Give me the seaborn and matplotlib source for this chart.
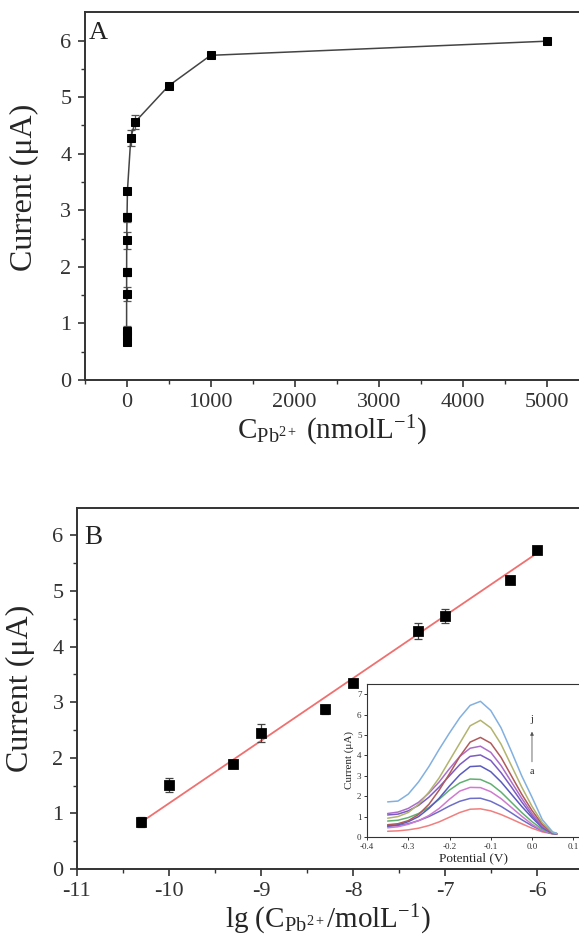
import numpy as np
import pandas as pd
import matplotlib
matplotlib.use("Agg")
import matplotlib.pyplot as plt
import seaborn as sns

# ---- panel A: current vs concentration (nmol/L) ----
conc_nm = [0, 0.01, 0.05, 0.1, 0.5, 1, 5, 10, 50, 100, 500, 1000, 5000]
current_a = [0.67, 0.80, 0.87, 1.52, 1.91, 2.47, 2.88, 3.35, 4.28, 4.56, 5.20, 5.74, 5.99]
err_a = [0.05, 0.08, 0.09, 0.12, 0.07, 0.15, 0.08, 0.05, 0.14, 0.12, 0.05, 0.04, 0.03]

# ---- panel B: current vs lg concentration ----
lg_conc = [-10.3, -10.0, -9.3, -9.0, -8.3, -8.0, -7.3, -7.0, -6.3, -6.0]
current_b = [0.85, 1.51, 1.89, 2.45, 2.87, 3.34, 4.28, 4.55, 5.19, 5.74]
err_b = [0.09, 0.12, 0.07, 0.16, 0.08, 0.04, 0.14, 0.12, 0.05, 0.04]
fit_slope = 1.126
fit_intercept = 12.44

# ---- inset: DPV curves a..j ----
potential = [-0.35, -0.325, -0.30, -0.275, -0.25, -0.225, -0.20, -0.175, -0.15,
             -0.125, -0.10, -0.075, -0.05, -0.025, 0.0, 0.025, 0.05, 0.06]
curves = {
    "a": [0.28, 0.30, 0.35, 0.43, 0.56, 0.74, 0.97, 1.20, 1.36, 1.38, 1.28, 1.10, 0.88, 0.65, 0.43, 0.25, 0.15, 0.14],
    "b": [0.52, 0.56, 0.65, 0.80, 1.00, 1.25, 1.52, 1.75, 1.89, 1.90, 1.75, 1.50, 1.18, 0.85, 0.55, 0.30, 0.16, 0.15],
    "c": [0.45, 0.50, 0.62, 0.80, 1.05, 1.40, 1.85, 2.25, 2.43, 2.42, 2.22, 1.88, 1.45, 1.02, 0.62, 0.32, 0.16, 0.15],
    "d": [0.78, 0.82, 0.95, 1.15, 1.45, 1.85, 2.30, 2.65, 2.84, 2.82, 2.60, 2.20, 1.70, 1.20, 0.75, 0.38, 0.17, 0.15],
    "e": [0.55, 0.60, 0.75, 1.00, 1.40, 1.90, 2.50, 3.05, 3.45, 3.48, 3.20, 2.70, 2.10, 1.50, 0.95, 0.45, 0.18, 0.15],
    "f": [1.08, 1.12, 1.28, 1.55, 1.95, 2.45, 3.00, 3.55, 3.95, 4.02, 3.75, 3.15, 2.45, 1.72, 1.05, 0.50, 0.19, 0.16],
    "g": [1.15, 1.22, 1.40, 1.70, 2.15, 2.70, 3.35, 3.95, 4.35, 4.45, 4.15, 3.50, 2.70, 1.90, 1.15, 0.55, 0.20, 0.16],
    "h": [0.60, 0.65, 0.80, 1.10, 1.60, 2.30, 3.10, 3.95, 4.65, 4.88, 4.60, 3.90, 3.00, 2.10, 1.30, 0.62, 0.20, 0.16],
    "i": [0.92, 1.00, 1.20, 1.60, 2.20, 2.90, 3.75, 4.60, 5.45, 5.72, 5.35, 4.55, 3.50, 2.45, 1.50, 0.70, 0.22, 0.17],
    "j": [1.72, 1.76, 2.10, 2.70, 3.45, 4.30, 5.10, 5.85, 6.45, 6.65, 6.20, 5.35, 4.20, 3.00, 1.95, 0.85, 0.25, 0.18],
}
curve_colors = ["#f07f7f", "#6e6ec8", "#d07ad0", "#5fb070", "#5a5ac0",
                "#7c5cc4", "#ac6ec8", "#b05a5a", "#b2b46e", "#82b0e0"]

sns.set_theme(style="ticks")
plt.rcParams["font.family"] = ["Liberation Serif", "DejaVu Serif"]
plt.rcParams["mathtext.fontset"] = "custom"
plt.rcParams["mathtext.rm"] = "Liberation Serif"
plt.rcParams["mathtext.it"] = "Liberation Serif:italic"
plt.rcParams["axes.unicode_minus"] = False
plt.rcParams["axes.edgecolor"] = "#333333"
plt.rcParams["xtick.color"] = "#333333"
plt.rcParams["ytick.color"] = "#333333"
plt.rcParams["text.color"] = "#222222"

fig = plt.figure(figsize=(5.79, 9.42), dpi=100)
ax_a = fig.add_axes([0.1461, 0.5966, 0.8539, 0.3903])
ax_b = fig.add_axes([0.1326, 0.0775, 0.8674, 0.3836])
ax_in = fig.add_axes([0.6339, 0.1115, 0.3661, 0.1624])


def style_main(ax):
    ax.spines["right"].set_visible(False)
    for s in ("left", "bottom", "top"):
        ax.spines[s].set_linewidth(1.4)
    ax.tick_params(which="major", direction="out", length=5, width=1.2,
                   labelsize=16, pad=4.5, top=False, right=False)
    ax.tick_params(which="minor", direction="out", length=3, width=1.0,
                   top=False, right=False)
    ax.set_ylim(0, 6.5)
    ax.set_yticks(range(0, 7))
    ax.set_yticks(np.arange(0.5, 6.5, 1.0), minor=True)


# panel A
df_a = pd.DataFrame({"conc": conc_nm, "current": current_a})
ax_a.errorbar(conc_nm, current_a, yerr=err_a, fmt="none", ecolor="#555555",
              elinewidth=0.9, capsize=3, capthick=0.9, zorder=2)
sns.lineplot(data=df_a, x="conc", y="current", ax=ax_a, color="#444444",
             linewidth=1.1, marker="s", markersize=5.3, markerfacecolor="black",
             markeredgecolor="black", sort=False, zorder=3)
style_main(ax_a)
ax_a.set_xlim(-500, 5384)
ax_a.set_xticks([0, 1000, 2000, 3000, 4000, 5000])
ax_a.set_xticks(np.arange(-500, 5400, 1000), minor=True)
ax_a.set_ylabel("Current (\u03bcA)", fontsize=23)
ax_a.yaxis.set_label_coords(-0.092, 0.525)
ax_a.set_xlabel(r"C$_{\mathregular{Pb^{2+}}}$ (nmolL$^{\mathregular{-1}}$)",
                fontsize=21, labelpad=1)
ax_a.text(0.009, 0.975, "A", transform=ax_a.transAxes, fontsize=19,
          va="top", ha="left")

# panel B
df_b = pd.DataFrame({"lg": lg_conc, "current": current_b})
fit_x = [lg_conc[0], lg_conc[-1]]
df_fit = pd.DataFrame({"lg": fit_x,
                       "current": [fit_slope * v + fit_intercept for v in fit_x]})
sns.lineplot(data=df_fit, x="lg", y="current", ax=ax_b, color="#f07070",
             linewidth=1.3, zorder=2)
ax_b.errorbar(lg_conc, current_b, yerr=err_b, fmt="none", ecolor="#444444",
              elinewidth=0.9, capsize=3, capthick=0.9, zorder=3)
sns.scatterplot(data=df_b, x="lg", y="current", ax=ax_b, marker="s", s=48,
                color="black", edgecolor="black", zorder=4)
style_main(ax_b)
ax_b.set_xlim(-11, -5.547)
ax_b.set_xticks([-11, -10, -9, -8, -7, -6])
ax_b.set_xticks(np.arange(-10.5, -5.5, 1.0), minor=True)
ax_b.set_ylabel("Current (\u03bcA)", fontsize=23)
ax_b.yaxis.set_label_coords(-0.083, 0.5)
ax_b.set_xlabel(r"lg (C$_{\mathregular{Pb^{2+}}}$/molL$^{\mathregular{-1}}$)",
                fontsize=21, labelpad=1)
ax_b.text(0.014, 0.953, "B", transform=ax_b.transAxes, fontsize=19.5,
          va="top", ha="left")

# inset
for (name, vals), col in zip(curves.items(), curve_colors):
    sns.lineplot(x=potential, y=vals, ax=ax_in, color=col, linewidth=1.1)
ax_in.set_xlim(-0.4, 0.114)
ax_in.set_ylim(0, 7.5)
ax_in.set_xticks([-0.4, -0.3, -0.2, -0.1, 0.0, 0.1])
ax_in.set_xticklabels(["-0.4", "-0.3", "-0.2", "-0.1", "0.0", "0.1"])
ax_in.set_yticks(range(0, 8))
ax_in.spines["right"].set_visible(False)
for s in ("left", "bottom", "top"):
    ax_in.spines[s].set_linewidth(0.8)
ax_in.tick_params(which="major", direction="out", length=2.5, width=0.7,
                  labelsize=6.5, pad=1.5, top=False, right=False)
ax_in.set_xlabel("Potential (V)", fontsize=9.5, labelpad=1)
ax_in.set_ylabel("Current (\u03bcA)", fontsize=8, labelpad=2)
ax_in.annotate("", xy=(0.0, 5.3), xytext=(0.0, 3.55),
               arrowprops=dict(arrowstyle="-|>", color="#555555", lw=0.6,
                               mutation_scale=5))
ax_in.text(0.0, 5.55, "j", fontsize=7, ha="center", va="bottom")
ax_in.text(0.0, 3.45, "a", fontsize=7, ha="center", va="top")

fig.savefig("out.png", dpi=100)
